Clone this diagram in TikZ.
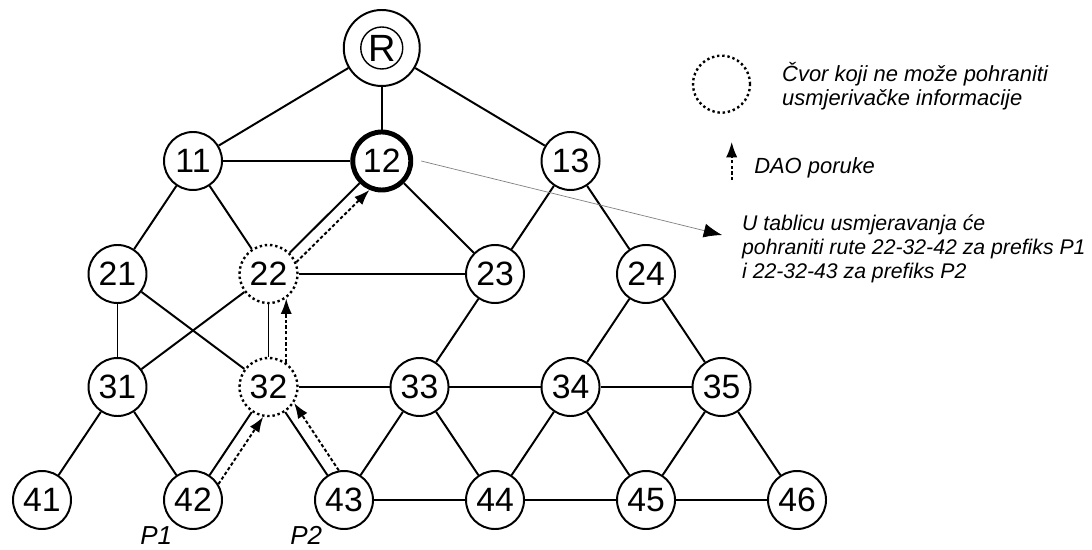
\documentclass[tikz,border=0pt]{standalone}
\usepackage{fontspec}
\setmainfont{Liberation Sans}
\usetikzlibrary{arrows.meta}

\begin{document}
\begin{tikzpicture}[x=1.8875cm,y=2.825cm,
            vertex/.style={circle,draw,line width=1.4pt,minimum size=1.45cm,inner sep=0pt,font=\fontsize{24}{24}\selectfont},
            nostore/.style={vertex,line width=1.7pt,dash pattern=on 1.7pt off 2pt},
            link/.style={line width=1.4pt},
            dao/.style={line width=1.4pt,dash pattern=on 2.4pt off 1.6pt,-{Latex[length=11pt,width=8pt]}},
            note/.style={anchor=west,inner sep=0pt,align=left,font=\fontsize{15.6}{17}\selectfont\itshape}]
            \useasboundingbox (-0.5563,-0.4336) rectangle (13.907,4.4248);

            \node[vertex,minimum size=1.9cm] (R) at (4.5,4) {};
            \node[circle,draw,line width=1pt,minimum size=1.05cm,inner sep=0pt,font=\fontsize{27}{27}\selectfont] (Rsign) at (R) {R};
            \node[vertex] (11) at (2,3) {11};
            \node[vertex,line width=3.5pt] (12) at (4.5,3) {12};
            \node[vertex] (13) at (7,3) {13};
            \node[vertex] (21) at (1,2) {21};
            \node[nostore] (22) at (3,2) {22};
            \node[vertex] (23) at (6,2) {23};
            \node[vertex] (24) at (8,2) {24};
            \node[vertex] (31) at (1,1) {31};
            \node[nostore] (32) at (3,1) {32};
            \node[vertex] (33) at (5,1) {33};
            \node[vertex] (34) at (7,1) {34};
            \node[vertex] (35) at (9,1) {35};
            \foreach \n [evaluate=\n as \c using int(2*\n-2)] in {1,...,6}
                \node[vertex] (4\n) at (\c,0) {4\n};

            \foreach \a/\b in {R/11,R/12,R/13,11/12,11/21,11/22,12/22,12/23,13/23,13/24,
                21/31,21/32,22/31,22/23,22/32,23/33,24/34,24/35,31/41,31/42,32/33,32/42,32/43,
                33/34,33/43,33/44,34/35,34/44,34/45,35/45,35/46,43/44,44/45,45/46}
                \draw[link] (\a) -- (\b);

            \draw[dao] (42.32) -- (32.260);
            \draw[dao] (43.100) -- (32.328);
            \draw[dao] (32.54) -- (22.306);
            \draw[dao] (22.23) -- (12.247);

            \node[nostore,minimum size=1.425cm] (legend) at (9,3.68) {};
            \node[note] (legendtext) at (9.8,3.66) {Čvor koji ne može pohraniti\\usmjerivačke informacije};
            \coordinate (daobottom) at (9.135,2.83);
            \coordinate (daotop) at (9.135,3.17);
            \draw[dao] (daobottom) -- (daotop);
            \node[note] (daotext) at (9.43,2.94) {DAO poruke};

            \coordinate (routetip) at (9.007,2.345);
            \draw[line width=0.5pt,gray,-{Latex[length=13pt,width=10pt,color=black]}] ([xshift=0.2cm]12.east) -- (routetip);
            \node[note,font=\fontsize{15.1}{17}\selectfont\itshape] (routes) at (9.27,2.221) {U tablicu usmjeravanja će\\pohraniti rute 22-32-42 za prefiks P1\\i 22-32-43 za prefiks P2};

            \node[anchor=base west,inner sep=0pt,font=\fontsize{18.5}{18.5}\selectfont\itshape] (P1) at (1.298,-0.398) {P1};
            \node[anchor=base west,inner sep=0pt,font=\fontsize{18.5}{18.5}\selectfont\itshape] (P2) at (3.285,-0.398) {P2};
        \end{tikzpicture}
\end{document}
